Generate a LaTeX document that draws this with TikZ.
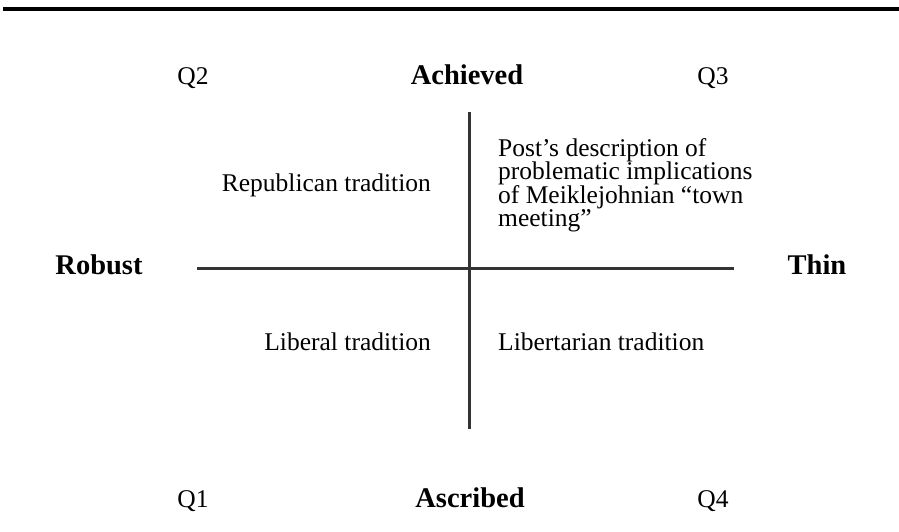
\documentclass[tikz,border=0pt]{standalone}
\usepackage{fontspec}
\setmainfont{Liberation Serif}
\begin{document}
\begin{tikzpicture}[x=1pt,y=1pt,
  lbl/.style={inner sep=0pt,font=\fontsize{25.5}{23.5}\selectfont},
  axlbl/.style={inner sep=0pt,font=\fontsize{28.5}{30}\selectfont\bfseries},
  axis/.style={line width=3pt,draw=black!80}]
\useasboundingbox (0,0) rectangle (899,532);
\fill[white] (0,0) rectangle (899,532);
% top rule
\coordinate (r1) at (3,523);
\coordinate (r2) at (899,523);
\draw[line width=4pt] (r1) -- (r2);
% axes
\coordinate (hl) at (197,263);
\coordinate (hr) at (734,263);
\coordinate (vt) at (469,420);
\coordinate (vb) at (469,103);
\draw[axis] (hl) -- (hr);
\draw[axis] (vt) -- (vb);
% labels
\node[lbl,anchor=base] (q2) at (193,447) {Q2};
\node[axlbl,anchor=base] (ach) at (467,447) {Achieved};
\node[lbl,anchor=base] (q3) at (713,447) {Q3};
\node[axlbl,anchor=base] (rob) at (99,257) {Robust};
\node[axlbl,anchor=base] (thin) at (817,257) {Thin};
\node[lbl,anchor=base] (q1) at (193,24) {Q1};
\node[axlbl,anchor=base] (asc) at (470,24) {Ascribed};
\node[lbl,anchor=base] (q4) at (713,24) {Q4};
% quadrant texts
\node[lbl,anchor=base east] (rep) at (431,340) {Republican tradition};
\node[lbl,anchor=base west,align=left] (post) at (498,305) {Post’s description of\\problematic implications\\of Meiklejohnian “town\\meeting”};
\node[lbl,anchor=base east] (lib) at (431,181) {Liberal tradition};
\node[lbl,anchor=base west] (libt) at (498,181) {Libertarian tradition};
\end{tikzpicture}
\end{document}
